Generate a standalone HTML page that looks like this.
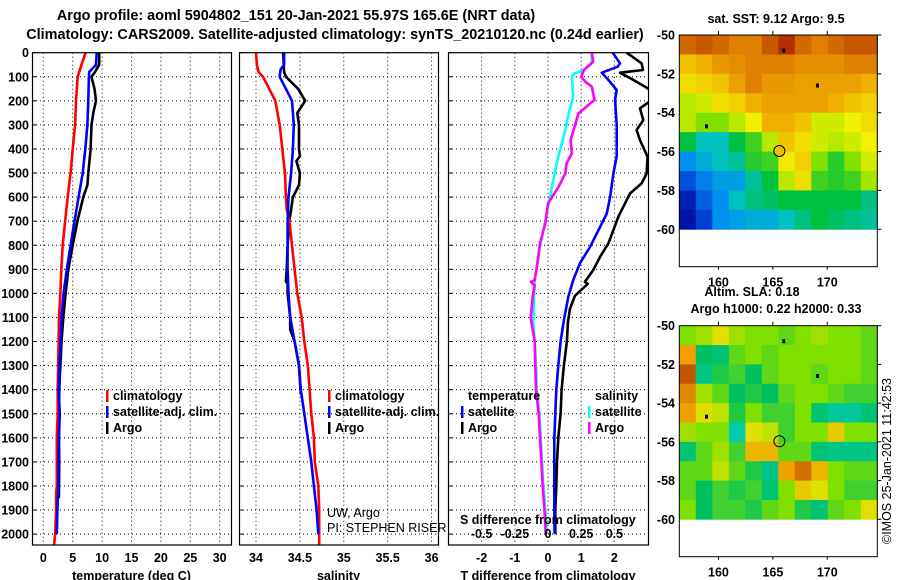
<!DOCTYPE html>
<html><head><meta charset="utf-8">
<style>
html,body{margin:0;padding:0;background:#fff;}
svg{display:block;font-family:"Liberation Sans",sans-serif;}
.b{font-weight:bold;font-size:12.5px;}
.t{font-weight:bold;font-size:14.4px;}
</style></head>
<body>
<svg id="chart" width="900" height="580" viewBox="0 0 900 580" xmlns="http://www.w3.org/2000/svg">
<text class="t" x="296" y="20" text-anchor="middle">Argo profile: aoml 5904802_151 20-Jan-2021 55.97S 165.6E (NRT data)</text>
<text class="t" x="335" y="39" text-anchor="middle">Climatology: CARS2009. Satellite-adjusted climatology: synTS_20210120.nc (0.24d earlier)</text>
<g id="panels"></g>
<g id="maps"></g>
</svg>
<script>
// ---------- profile data ----------
const depthTicks=[0,100,200,300,400,500,600,700,800,900,1000,1100,1200,1300,1400,1500,1600,1700,1800,1900,2000];
const tempTicks=[0,5,10,15,20,25,30];
const salTicks=[34,34.5,35,35.5,36];
const tdiffTicks=[-2,-1,0,1,2];
const sdiffTicks=[-0.5,-0.25,0,0.25,0.5];
const sdiffTickLabels=["-0.5","-0.25","0","0.25","0.5"];

const tClimDepth=[0,50,100,200,300,400,500,600,700,800,900,1000,1100,1200,1300,1400,1500,1600,1700,1800,1830,1900,2000,2050];
const tClim=[7.2,6.5,5.85,5.56,5.4,5.0,4.65,4.15,3.7,3.3,3.06,2.9,2.67,2.6,2.53,2.45,2.45,2.3,2.3,2.3,2.17,2.17,2.03,1.8];
const tSatDepth=[0,50,80,100,200,300,400,500,600,700,800,900,1000,1100,1200,1300,1400,1500,1600,1700,1800,1900,2000];
const tSat=[9.08,8.96,7.8,7.75,7.65,7.5,7.15,6.7,6.0,5.3,4.65,4.0,3.45,3.1,2.95,2.74,2.6,2.8,2.65,2.6,2.55,2.4,2.3];
const tArgoDepth=[0,50,80,100,150,200,250,300,400,500,550,600,700,800,900,1000,1100,1200,1300,1400,1500,1600,1700,1850];
const tArgo=[9.5,9.5,8.8,8.2,8.7,8.96,8.5,8.2,8.05,7.65,7.5,6.8,5.8,5.0,4.25,3.8,3.4,3.1,2.9,2.7,2.7,2.65,2.7,2.65];

const sClimDepth=[0,50,80,100,150,200,300,400,500,600,650,700,800,900,1000,1100,1200,1300,1400,1500,1600,1700,1800,1900,2000,2050];
const sClim=[34.0,34.01,34.03,34.08,34.15,34.22,34.27,34.30,34.33,34.34,34.35,34.38,34.41,34.44,34.47,34.52,34.55,34.59,34.61,34.63,34.66,34.67,34.71,34.72,34.72,34.72];
const sSatDepth=[0,50,70,100,150,200,300,400,500,600,700,800,900,1000,1100,1200,1300,1400,1500,1600,1700,1800,1900,2000];
const sSat=[34.32,34.32,34.28,34.27,34.34,34.41,34.43,34.42,34.40,34.37,34.36,34.36,34.36,34.37,34.39,34.44,34.49,34.51,34.55,34.59,34.63,34.66,34.69,34.71];
const sArgoDepth=[0,80,100,150,200,250,300,400,430,450,500,550,600,700,800,900,950,960,1000,1100,1150,1200,1300,1420];
const sArgo=[34.31,34.32,34.34,34.48,34.56,34.47,34.49,34.49,34.5,34.46,34.5,34.49,34.42,34.38,34.36,34.35,34.34,34.36,34.36,34.39,34.39,34.44,34.49,34.51];

const dTArgoDepth=[0,44,72,83,113,148,180,231,280,321,363,433,502,543,585,626,681,737,792,848,903,952,960,1010,1065,1121,1200,1300,1400,1500,1600,1700,1800,1900,2000];
const dTArgo=[2.37,2.82,2.86,2.17,2.57,3.0,3.3,2.77,2.87,2.67,2.77,3.0,2.97,2.82,2.47,2.32,2.12,1.97,1.82,1.57,1.36,1.11,1.2,0.81,0.66,0.6,0.57,0.48,0.41,0.38,0.31,0.27,0.25,0.22,0.22];
const dTSatDepth=[0,44,58,83,113,155,196,300,430,502,599,668,737,806,875,945,1014,1111,1200,1300,1400,1500,1600,1700,1800,1900,2000];
const dTSat=[1.95,2.17,2.1,1.62,1.82,2.07,2.02,2.07,2.07,1.97,1.87,1.77,1.52,1.27,0.96,0.76,0.61,0.48,0.38,0.31,0.25,0.22,0.19,0.19,0.19,0.19,0.2];
const dSSatDepth=[0,44,72,86,100,183,266,321,460,599,668,737,806,875,945,1014,1121,1200,1300,1400,1500,1600,1700,1800,1900,2000];
const dSSat=[0.33,0.33,0.27,0.2,0.18,0.19,0.15,0.13,0.065,0.015,-0.01,-0.035,-0.06,-0.08,-0.1,-0.105,-0.11,-0.1,-0.09,-0.085,-0.065,-0.055,-0.045,-0.035,-0.02,-0.01];
const dSArgoDepth=[0,37,72,100,120,141,196,224,252,307,363,418,460,502,557,626,709,792,875,945,952,966,1014,1100,1200,1300,1400,1500,1600,1700,1800,1900,2000];
const dSArgo=[0.33,0.34,0.27,0.25,0.28,0.33,0.35,0.29,0.23,0.2,0.17,0.18,0.14,0.13,0.08,0.0,-0.02,-0.06,-0.08,-0.1,-0.13,-0.1,-0.115,-0.13,-0.1,-0.096,-0.09,-0.07,-0.06,-0.05,-0.04,-0.026,-0.017];

// ---------- map data (12 cols x 10 rows, values 0..1) ----------
const sstGrid=[
[.88,.9,.88,.85,.85,.9,.95,.88,.85,.88,.9,.9],
[.72,.75,.8,.82,.85,.85,.85,.82,.82,.82,.85,.85],
[.68,.7,.72,.78,.85,.8,.8,.78,.78,.78,.78,.75],
[.6,.62,.68,.7,.75,.78,.78,.78,.78,.75,.72,.7],
[.6,.55,.55,.6,.65,.75,.75,.72,.62,.62,.65,.68],
[.45,.35,.35,.45,.5,.6,.72,.68,.62,.6,.62,.65],
[.28,.32,.35,.38,.48,.5,.66,.7,.55,.48,.55,.62],
[.18,.25,.3,.3,.38,.45,.6,.68,.5,.48,.5,.58],
[.08,.2,.28,.35,.4,.42,.45,.45,.45,.45,.45,.4],
[.05,.15,.28,.3,.32,.32,.35,.4,.45,.42,.4,.38]];
const slaGrid=[
[.5,.55,.65,.55,.5,.5,.45,.5,.55,.5,.5,.45],
[.8,.3,.25,.45,.5,.45,.5,.5,.5,.5,.5,.45],
[.95,.2,.35,.4,.3,.45,.5,.5,.45,.5,.5,.45],
[.85,.55,.45,.3,.35,.3,.45,.5,.5,.45,.4,.4],
[.8,.65,.6,.35,.5,.4,.4,.5,.25,.15,.15,.25],
[.55,.5,.5,.1,.65,.6,.4,.5,.5,.7,.5,.5],
[.25,.45,.55,.4,.75,.75,.45,.45,.25,.2,.2,.2],
[.45,.45,.6,.45,.35,.2,.8,.9,.75,.5,.45,.45],
[.45,.3,.4,.35,.4,.25,.5,.7,.65,.5,.4,.4],
[.5,.3,.4,.4,.35,.45,.5,.35,.25,.45,.5,.65]];
const lonTicks=[160,165,170];
const latTicks=[-50,-52,-54,-56,-58,-60];
const argoLon=165.6, argoLat=-55.97;
const markLon=[166.0,169.1,158.9], markLat=[-50.8,-52.6,-54.7];

// ---------- drawing ----------
const NS="http://www.w3.org/2000/svg";
const svg=document.getElementById('chart');
const P=document.getElementById('panels');
const M=document.getElementById('maps');
function mk(tag,attrs,parent,txt){const e=document.createElementNS(NS,tag);for(const k in attrs)e.setAttribute(k,attrs[k]);if(txt!==undefined)e.textContent=txt;(parent||svg).appendChild(e);return e;}

const Y0=52.7,YB=545,YS=0.2407;
const yD=d=>Y0+d*YS;
const panels=[
 {x0:32,x1:231,f:v=>43.3+5.88*v,ticks:tempTicks,lab:tempTicks.map(String),title:"temperature (deg C)",name:"temperature"},
 {x0:239,x1:438,f:v=>256+87.8*(v-34),ticks:salTicks,lab:salTicks.map(String),title:"salinity",name:"salinity"},
 {x0:448,x1:648,f:v=>548+33.2*v,ticks:tdiffTicks,lab:tdiffTicks.map(String),title:"T difference from climatology",name:"difference"}];
const sx=v=>548+132.8*v;

panels.forEach((p,i)=>{
  const g=mk('g',{},P);
  
  
  const cp=mk('clipPath',{id:'clip'+i},g);
  mk('rect',{x:p.x0,y:Y0,width:p.x1-p.x0,height:YB-Y0},cp);
  depthTicks.forEach(d=>{ if(d>0){const l=mk('line',{x1:p.x0,x2:p.x1,y1:yD(d),y2:yD(d),stroke:'#000','stroke-width':1,'stroke-dasharray':'1,3'},g);
    }
    mk('line',{x1:p.x0,x2:p.x0+5,y1:yD(d),y2:yD(d),stroke:'#000'},g);
  });
  p.ticks.forEach((t,k)=>{const x=p.f(t);
    const l=mk('line',{x1:x,x2:x,y1:Y0,y2:YB,stroke:'#000','stroke-width':1,'stroke-dasharray':'1,3'},g);
    
    const tx=mk('text',{x:x,y:562,'text-anchor':'middle',class:'b'},g,p.lab[k]);
    
  });
  const tt=mk('text',{x:(p.x0+p.x1)/2,y:580,'text-anchor':'middle',class:'b'},g,p.title);
  
  p.g=g;
});
depthTicks.forEach(d=>{const t=mk('text',{x:29,y:yD(d)+4.5,'text-anchor':'end',class:'b'},P,String(d));
  });

function series(pi,depths,vals,f,color,name){
  const pts=depths.map((d,k)=>f(vals[k]).toFixed(1)+','+yD(d).toFixed(1)).join(' ');
  const l=mk('polyline',{points:pts,fill:'none',stroke:color,'stroke-width':2.6,'stroke-linejoin':'round','clip-path':'url(#clip'+pi+')'},panels[pi].g);
  
  
}
const f0=panels[0].f,f1=panels[1].f,f2=panels[2].f;
series(0,tArgoDepth,tArgo,f0,'#000','temp-argo-line');
series(0,tClimDepth,tClim,f0,'#ff0000','temp-climatology-line');
series(0,tSatDepth,tSat,f0,'#0000ff','temp-satellite-line');
series(1,sArgoDepth,sArgo,f1,'#000','sal-argo-line');
series(1,sClimDepth,sClim,f1,'#ff0000','sal-climatology-line');
series(1,sSatDepth,sSat,f1,'#0000ff','sal-satellite-line');
series(2,dTArgoDepth,dTArgo,f2,'#000','tdiff-argo-line');
series(2,dTSatDepth,dTSat,f2,'#0000ff','tdiff-satellite-line');
series(2,dSSatDepth,dSSat,sx,'#00ffff','sdiff-satellite-line');
series(2,dSArgoDepth,dSArgo,sx,'#ff00ff','sdiff-argo-line');

panels.forEach(p=>{const r=mk('rect',{x:p.x0+0.5,y:Y0,width:p.x1-p.x0,height:YB-Y0,fill:'none',stroke:'#000','stroke-width':1.2},p.g);
  });

function leg(x,y,color,label,g){
  const lg=mk('g',{},g);
  
  
  if(color) mk('rect',{x:x,y:y-10,width:2.5,height:12,fill:color},lg);
  mk('text',{x:x+7,y:y,class:'b'},lg,label);
}
leg(106,400,'#ff0000','climatology',P);leg(106,416,'#0000ff','satellite-adj. clim.',P);leg(106,432,'#000','Argo',P);
leg(328,400,'#ff0000','climatology',P);leg(328,416,'#0000ff','satellite-adj. clim.',P);leg(328,432,'#000','Argo',P);
leg(461,400,null,'temperature',P);leg(461,416,'#0000ff','satellite',P);leg(461,432,'#000','Argo',P);
leg(588,400,null,'salinity',P);leg(588,416,'#00ffff','satellite',P);leg(588,432,'#ff00ff','Argo',P);
let t=mk('text',{x:327,y:517,'font-size':'12.5px'},P,'UW, Argo');
t=mk('text',{x:327,y:532,'font-size':'12.5px'},P,'PI: STEPHEN RISER');
t=mk('text',{x:460,y:524,class:'b'},P,'S difference from climatology');
sdiffTicks.forEach((v,k)=>{const e=mk('text',{x:sx(v),y:538,'text-anchor':'middle',class:'b'},P,sdiffTickLabels[k]);
  });

const MX0=679.3,MX1=877.3,LON0=156.4,LON1=174.6;
const mxL=lon=>MX0+(lon-LON0)*(MX1-MX0)/(LON1-LON0);
function cmap(stops,v){for(let i=1;i<stops.length;i++){if(v<=stops[i][0]){const a=stops[i-1],b=stops[i],u=(v-a[0])/(b[0]-a[0]);
  const c=a[1].map((x,j)=>Math.round(x+(b[1][j]-x)*u));return 'rgb('+c.join(',')+')';}}const l=stops[stops.length-1][1];return 'rgb('+l.join(',')+')';}
const sstStops=[[0,[0,0,144]],[.15,[0,64,208]],[.28,[0,144,240]],[.35,[0,192,192]],[.45,[0,192,64]],[.55,[128,224,0]],[.65,[240,240,0]],[.75,[240,176,0]],[.85,[224,128,0]],[.95,[176,48,0]],[1,[160,32,0]]];
const slaStops=[[0,[0,208,208]],[.3,[0,192,96]],[.5,[128,224,0]],[.65,[224,224,0]],[.8,[240,160,0]],[1,[176,64,0]]];
function drawMap(top,yLat60,bottom,grid,stops,name,circleFill){
  const g=mk('g',{},M);
  
  
  const yL=lat=>top+(-50-lat)*(yLat60-top)/10;
  const nr=grid.length,nc=grid[0].length,cw=(MX1-MX0)/nc,rh=(yLat60-top)/nr;
  grid.forEach((row,r)=>row.forEach((v,c)=>{
    const cell=mk('rect',{x:(MX0+c*cw).toFixed(2),y:(top+r*rh).toFixed(2),width:(cw+0.4).toFixed(2),height:(rh+0.4).toFixed(2),fill:cmap(stops,v)},g);
    
    
  }));
  mk('rect',{x:MX0,y:top,width:MX1-MX0,height:bottom-top,fill:'none',stroke:'#000','stroke-width':1},g);
  lonTicks.forEach(l=>{const x=mxL(l);mk('line',{x1:x,x2:x,y1:top,y2:top-4,stroke:'#000'},g);mk('line',{x1:x,x2:x,y1:bottom,y2:bottom+3,stroke:'#000'},g);
    const e=mk('text',{x:x,y:bottom+20,'text-anchor':'middle',class:'b'},g,String(l));});
  latTicks.forEach(l=>{const y=yL(l);mk('line',{x1:MX1,x2:MX1+4,y1:y,y2:y,stroke:'#000'},g);
    const e=mk('text',{x:675,y:y+4.5,'text-anchor':'end',class:'b'},g,String(l));});
  markLon.forEach((lo,k)=>{mk('rect',{x:mxL(lo)-1.5,y:yL(markLat[k])-2,width:3,height:4,fill:'#000'},g);});
  const c=mk('circle',{cx:mxL(argoLon),cy:yL(argoLat),r:5.5,fill:circleFill,stroke:'#000','stroke-width':1},g);
  
}
drawMap(35,229.3,266.7,sstGrid,sstStops,'sst-map','#f0c000');
drawMap(325.7,519.3,556.7,slaGrid,slaStops,'sla-map','none');
t=mk('text',{x:776,y:23,'text-anchor':'middle',class:'b'},M,'sat. SST: 9.12 Argo: 9.5');
t=mk('text',{x:752,y:296,'text-anchor':'middle',class:'b'},M,'Altim. SLA: 0.18');
t=mk('text',{x:776,y:313,'text-anchor':'middle',class:'b'},M,'Argo h1000: 0.22 h2000: 0.33');
t=mk('text',{x:0,y:0,'font-size':'12.5px',transform:'translate(891,461) rotate(-90)','text-anchor':'middle'},M,'©IMOS 25-Jan-2021 11:42:53');
</script>
</body></html>
